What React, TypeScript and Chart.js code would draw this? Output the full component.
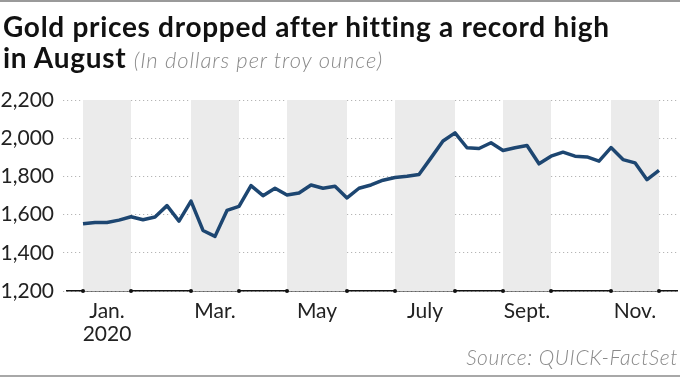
import React, { useEffect, useRef } from "react";
import { Chart, registerables } from "chart.js";

Chart.register(...registerables);

// Weekly gold price (USD per troy ounce), first week of Jan. 2020 to late Nov. 2020
const weeklyPrices = [
  1552, 1559, 1559, 1571, 1589, 1573, 1587, 1647, 1566, 1671,
  1517, 1486, 1622, 1643, 1752, 1699, 1738, 1703, 1713, 1755,
  1738, 1748, 1687, 1738, 1755, 1780, 1794, 1801, 1810, 1897,
  1985, 2028, 1950, 1946, 1976, 1936, 1950, 1962, 1866, 1906,
  1927, 1906, 1902, 1880, 1951, 1888, 1871, 1783, 1832,
];

// Number of weekly intervals spanned by each month (Jan..Nov)
const monthWeeks = [4, 5, 4, 4, 5, 4, 5, 4, 4, 5, 4];
const monthLabels: (string | string[])[] = [
  ["Jan.", "2020"], "Feb.", "Mar.", "Apr.", "May", "June", "July", "Aug.", "Sept.", "Oct.", "Nov.",
];
const shadedMonths = [0, 2, 4, 6, 8, 10];

const yTicks = [1200, 1400, 1600, 1800, 2000, 2200];

const TITLE = "Gold prices dropped after hitting a record high";
const TITLE2 = "in August";
const SUBTITLE = "(In dollars per troy ounce)";
const SOURCE = "Source: QUICK-FactSet";

const FONT = "Lato, 'Open Sans', sans-serif";

export default function App() {
  const ref = useRef<HTMLCanvasElement | null>(null);

  useEffect(() => {
    if (!ref.current) return;
    const bounds: number[] = [0];
    monthWeeks.forEach((w) => bounds.push(bounds[bounds.length - 1] + w));
    const bands = shadedMonths.map((m) => [bounds[m], bounds[m + 1]]);
    const centers = shadedMonths.map((m) => (bounds[m] + bounds[m + 1]) / 2);
    const centerLabel = new Map<number, string | string[]>();
    shadedMonths.forEach((m, k) => centerLabel.set(centers[k], monthLabels[m]));

    const bandPlugin = {
      id: "bands",
      beforeDatasetsDraw(chart: any) {
        const { ctx, scales } = chart;
        const x = scales.x;
        const y = scales.y;
        ctx.save();
        ctx.fillStyle = "#ebebeb";
        const top = y.getPixelForValue(yTicks[yTicks.length - 1]);
        const bot = y.getPixelForValue(yTicks[0]);
        bands.forEach(([a, b]) => {
          const x0 = x.getPixelForValue(a);
          const x1 = x.getPixelForValue(b);
          ctx.fillRect(x0, top, x1 - x0, bot - top);
        });
        ctx.restore();
      },
      afterDraw(chart: any) {
        const { ctx, scales } = chart;
        const x = scales.x;
        const bot = scales.y.getPixelForValue(yTicks[0]);
        ctx.save();
        ctx.fillStyle = "#111";
        bands.forEach(([a, b]) => {
          [a, b].forEach((v) => {
            ctx.beginPath();
            ctx.arc(x.getPixelForValue(v), bot, 2, 0, Math.PI * 2);
            ctx.fill();
          });
        });
        ctx.restore();
      },
    };

    const lastIdx = weeklyPrices.length - 1;
    const chart = new Chart(ref.current, {
      type: "line",
      data: {
        datasets: [
          {
            data: weeklyPrices.map((v, i) => ({ x: i, y: v })),
            borderColor: "#1d4671",
            borderWidth: 3.5,
            pointRadius: 0,
            tension: 0,
            borderJoinStyle: "round",
            fill: false,
          },
        ],
      },
      options: {
        animation: false,
        responsive: false,
        layout: { padding: { top: 100, right: 3, left: 0, bottom: 0 } },
        plugins: { legend: { display: false }, tooltip: { enabled: false }, title: { display: false } },
        scales: {
          x: {
            type: "linear",
            min: -16 / 12,
            max: lastIdx + 18 / 12,
            afterFit: (s: any) => { s.height = 86; },
            afterBuildTicks: (s: any) => { s.ticks = centers.map((v) => ({ value: v })); },
            grid: { display: false, drawTicks: false },
            border: { display: true, color: "#111", width: 1.5 },
            ticks: {
              autoSkip: false,
              maxRotation: 0,
              padding: 9,
              color: "#222",
              font: { family: FONT, size: 21, lineHeight: 1.1 },
              callback: (v: any) => centerLabel.get(v) ?? "",
            },
          },
          y: {
            min: 1200,
            max: 2200,
            afterFit: (s: any) => { s.width = 67; },
            afterBuildTicks: (s: any) => { s.ticks = yTicks.map((v) => ({ value: v })); },
            grid: {
              color: "#b5b5b5",
              lineWidth: 1,
              drawTicks: true,
              tickLength: 4,
              tickColor: "#b5b5b5",
              tickBorderDash: [1.2, 2.8],
            },
            border: { display: false, dash: [1.2, 2.8] },
            ticks: {
              padding: 9,
              color: "#222",
              font: { family: FONT, size: 21 },
              callback: (v: any) => Number(v).toLocaleString("en-US"),
            },
          },
        },
      },
      plugins: [bandPlugin],
    } as any);
    return () => chart.destroy();
  }, []);

  return (
    <div
      style={{
        position: "fixed",
        left: 0,
        top: 0,
        width: 680,
        height: 377,
        background: "#fff",
        overflow: "hidden",
        fontFamily: FONT,
      }}
    >
      <canvas ref={ref} width={680} height={377} style={{ position: "absolute", left: 0, top: 0, width: 680, height: 377 }} />
      <div style={{ position: "absolute", left: 0, top: 0, width: 680, height: 1.5, background: "#9a9a9a" }} />
      <div style={{ position: "absolute", left: 0, top: 375, width: 680, height: 2, background: "#a8a8a8" }} />
      <div
        style={{
          position: "absolute",
          left: 3,
          top: 11,
          fontSize: 28,
          fontWeight: 700,
          lineHeight: "31px",
          letterSpacing: "0.7px",
          color: "#111",
          whiteSpace: "nowrap",
        }}
      >
        <div>{TITLE}</div>
        <div>
          {TITLE2}{" "}
          <span style={{ fontSize: 22, fontWeight: 300, fontStyle: "italic", color: "#8a8a8a", letterSpacing: "0.9px" }}>
            {SUBTITLE}
          </span>
        </div>
      </div>
      <div
        style={{
          position: "absolute",
          right: 2,
          top: 345,
          fontSize: 21,
          fontWeight: 300,
          fontStyle: "italic",
          color: "#8a8a8a",
          whiteSpace: "nowrap",
          lineHeight: "24px",
          letterSpacing: "0.6px",
        }}
      >
        {SOURCE}
      </div>
    </div>
  );
}
